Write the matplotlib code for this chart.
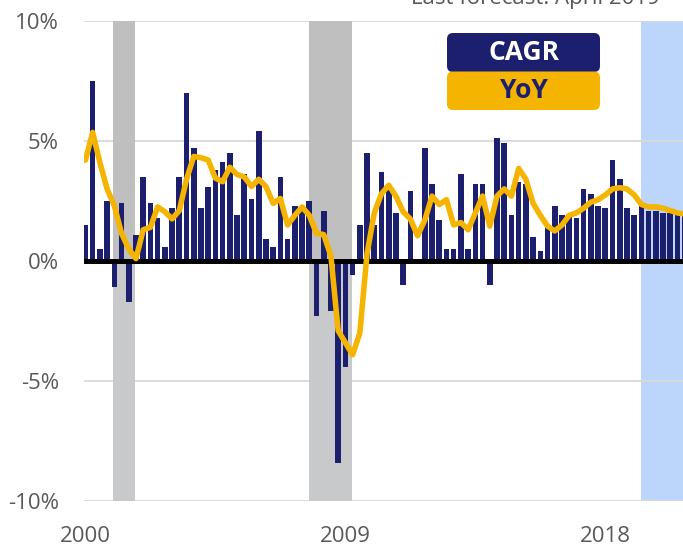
import numpy as np
import matplotlib.pyplot as plt
from matplotlib.patches import FancyBboxPatch

plt.rcParams['font.family'] = ['Open Sans', 'DejaVu Sans']

# quarterly data starting 2000Q1 (annualised q/q growth and y/y growth, %)
cagr = [1.5, 7.5, 0.5, 2.5, -1.1, 2.4, -1.7, 1.1,
        3.5, 2.4, 1.8, 0.6, 2.2, 3.5, 7.0, 4.7,
        2.2, 3.1, 3.8, 4.1, 4.5, 1.9, 3.6, 2.6,
        5.4, 0.9, 0.6, 3.5, 0.9, 2.3, 2.2, 2.5,
        -2.3, 2.1, -2.1, -8.4, -4.4, -0.6, 1.5, 4.5,
        1.5, 3.7, 3.0, 2.0, -1.0, 2.9, -0.1, 4.7,
        3.2, 1.7, 0.5, 0.5, 3.6, 0.5, 3.2, 3.2,
        -1.0, 5.1, 4.9, 1.9, 3.3, 3.2, 1.0, 0.4,
        1.5, 2.3, 1.9, 1.9, 1.8, 3.0, 2.8, 2.3,
        2.2, 4.2, 3.4, 2.2, 1.9, 2.4, 2.1, 2.1,
        2.0, 2.0, 1.9, 1.9]
yoy = [4.2, 5.35, 4.1, 3.0, 2.3, 1.15, 0.5, 0.1,
       1.3, 1.4, 2.25, 2.05, 1.75, 2.1, 3.4, 4.35,
       4.3, 4.2, 3.45, 3.3, 3.9, 3.6, 3.5, 3.1,
       3.4, 3.1, 2.4, 2.6, 1.5, 1.9, 2.25, 1.9,
       1.15, 1.1, 0.2, -2.9, -3.4, -3.9, -3.0, 0.3,
       2.0, 2.8, 3.15, 2.7, 2.05, 1.75, 1.05, 1.7,
       2.7, 2.35, 2.55, 1.5, 1.6, 1.3, 2.0, 2.7,
       1.45, 2.7, 3.0, 2.7, 3.85, 3.4, 2.4, 1.9,
       1.45, 1.25, 1.5, 1.9, 2.0, 2.2, 2.45, 2.55,
       2.75, 3.0, 3.05, 3.0, 2.75, 2.35, 2.25, 2.25,
       2.2, 2.1, 2.0, 1.95]
year_labels = ['2000', '2009', '2018']
year_pos = [0, 36, 72]
recessions = [(3.83, 6.86), (30.96, 36.9)]
forecast_start = 76.9

navy = '#1c1f6e'
gold = '#f5b400'
grey = '#595959'

fig = plt.figure(figsize=(6.83, 5.46), dpi=100)
ax = fig.add_axes([84/683, (546-501.3)/546, 599/683, 480.6/546])

x = np.arange(len(cagr))

# shaded areas
ax.axvspan(forecast_start, len(cagr) + 1, color='#bcd5fa', lw=0, zorder=0.2)
for a, b in recessions:
    ax.fill_between([a, b], 0, 10, color='#bfbfbf', lw=0, zorder=1)
    ax.fill_between([a, b], -10, 0, color='#c8c9cb', lw=0, zorder=1)

ax.bar(x, cagr, width=0.78, color=navy, zorder=2)
ax.axhline(0, color='black', lw=3.6, zorder=3)
ax.plot(x, yoy, color=gold, lw=4, solid_joinstyle='round',
        solid_capstyle='round', zorder=4)

ax.set_xlim(-0.2, 82.76)
ax.set_ylim(-10, 10)
ax.set_yticks([-10, -5, 0, 5, 10])
ax.set_yticklabels(['-10%', '-5%', '0%', '5%', '10%'])
ax.set_xticks(year_pos)
ax.set_xticklabels(year_labels)
ax.set_axisbelow(True)
ax.yaxis.grid(True, color='#d9d9d9', lw=1.3)
ax.tick_params(axis='both', length=0, labelsize=16, labelcolor=grey)
ax.tick_params(axis='y', pad=18)
ax.tick_params(axis='x', pad=18)
for s in ax.spines.values():
    s.set_visible(False)

# legend boxes
tr = fig.dpi_scale_trans
fig.add_artist(FancyBboxPatch((4.47, 4.74), 1.53, 0.39, boxstyle='round,pad=0,rounding_size=0.06',
                              fc=navy, ec='none', transform=tr))
fig.add_artist(FancyBboxPatch((4.47, 4.36), 1.53, 0.385, boxstyle='round,pad=0,rounding_size=0.06',
                              fc=gold, ec='none', transform=tr))
fig.text(5.235, 4.935, 'CAGR', transform=tr, ha='center', va='center',
         fontsize=19, fontweight='bold', color='white')
fig.text(5.235, 4.55, 'YoY', transform=tr, ha='center', va='center',
         fontsize=19, fontweight='bold', color=navy)

# the note sits partly above the top edge, as in the source image
fig.text(660/683, 1 - 4/546, 'Last forecast: April 2019', ha='right', va='baseline',
         fontsize=16, color=grey)

fig.savefig('out.png', dpi=100)
